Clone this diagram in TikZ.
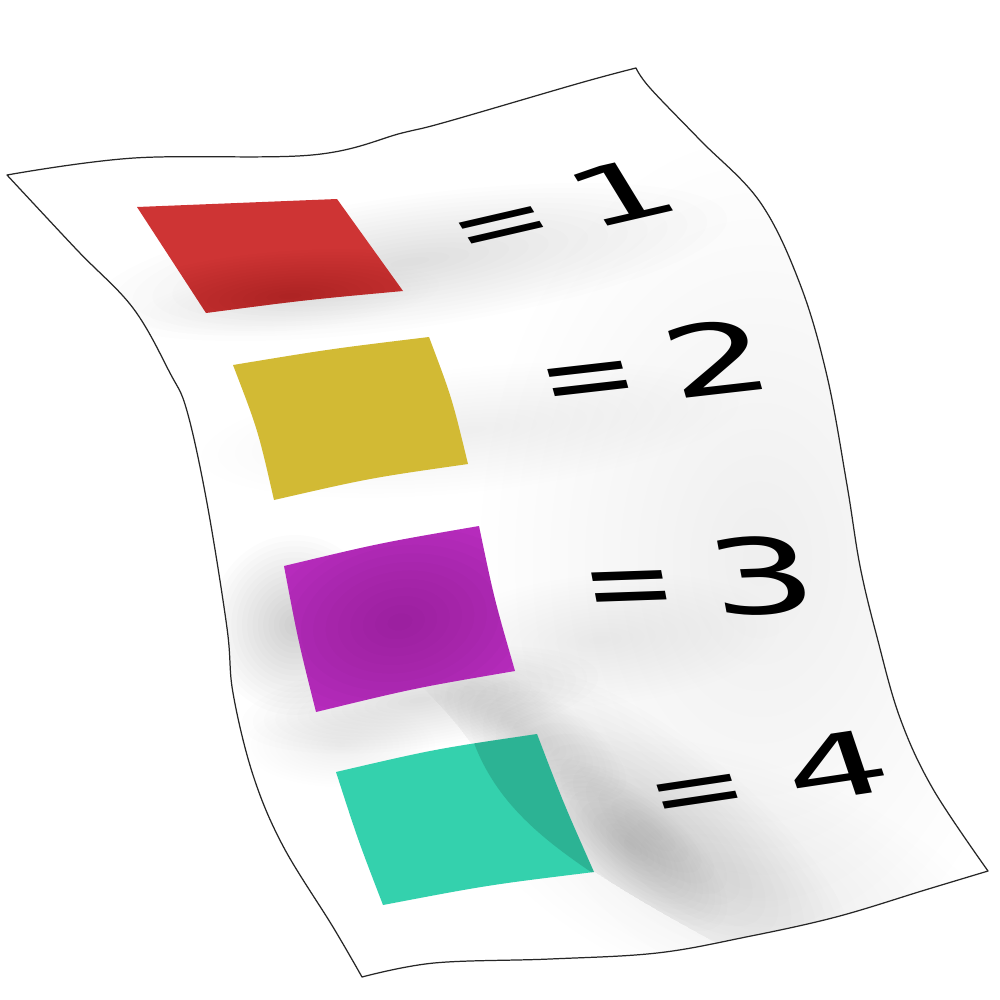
\documentclass[tikz,border=0pt]{standalone}
\usepackage{fontspec}
\setmainfont{DejaVu Sans}
\usepackage{graphicx}
\definecolor{sqred}{RGB}{206,52,52}
\definecolor{sqyellow}{RGB}{210,186,52}
\definecolor{sqmagenta}{RGB}{197,48,203}
\definecolor{sqteal}{RGB}{52,209,173}
\newcommand\softblob[6]{%
  \foreach \k in {1,...,16}{%
    \fill[black, fill opacity=#6, rotate around={#5:(#1,#2)}] (#1,#2) ellipse [x radius={#3*\k/16}, y radius={#4*\k/16}];
  }}
\newcommand\paperpath{(7,175) -- plot[smooth, tension=0.6] coordinates {(7,175) (134,158) (312,155) (402,133) (446,122) (580,83) (636,68)}
  -- plot[smooth, tension=0.6] coordinates {(636,68) (650,88) (700,140) (760,202) (800,284) (827,376) (847,485) (860,566) (877,637) (900,718) (933,789) (988,871)}
  -- plot[smooth, tension=0.6] coordinates {(988,871) (925,890) (836,917) (746,937) (657,953) (550,959) (434,963) (362,977)}
  -- plot[smooth, tension=0.6] coordinates {(362,977) (333,927) (283,846) (253,775) (233,693) (227,628) (207,503) (187,411) (170,373) (133,308) (77,250) (7,175)} -- cycle}
\newcommand\redsq{(137,207) -- (337,199) -- (403,291) .. controls (305,300) .. (206,313) -- cycle}
\newcommand\yellowsq{(233,365) .. controls (330,349) .. (429,337) .. controls (452,398) .. (468,464) .. controls (370,478) .. (274,500) .. controls (258,430) .. (233,365) -- cycle}
\newcommand\magentasq{(284,566) .. controls (380,543) .. (479,526) .. controls (494,598) .. (515,671) .. controls (415,688) .. (316,712) .. controls (298,640) .. (284,566) -- cycle}
\newcommand\tealsq{(336,772) .. controls (435,749) .. (537,734) .. controls (563,802) .. (594,872) .. controls (488,885) .. (383,905) .. controls (358,840) .. (336,772) -- cycle}
\tikzset{lbl/.style={anchor=base west, inner sep=0pt, outer sep=0pt, text=black, font=\fontsize{20}{24}\selectfont}}
\begin{document}
\begin{tikzpicture}[x=0.01cm, y=-0.01cm]
\useasboundingbox (0,0) rectangle (1000,1000);
\fill[white] (0,0) rectangle (1000,1000);
% paper
\fill[white] \paperpath;
\begin{scope}
  \clip \paperpath;
  % general faint grey on the right
  \softblob{760}{560}{280}{420}{0}{0.0035}
  \softblob{740}{880}{280}{120}{-20}{0.004}
  % shadow under the red row
  \softblob{410}{262}{320}{66}{8}{0.0065}
  \softblob{290}{300}{150}{32}{6}{0.005}
  % shadow of the yellow row
  \softblob{470}{430}{270}{62}{6}{0.0025}
  % shadow around the magenta square
  \softblob{295}{625}{85}{90}{0}{0.013}
  \softblob{420}{700}{180}{48}{8}{0.007}
  \softblob{600}{640}{180}{65}{5}{0.003}
  \softblob{340}{745}{95}{42}{0}{0.005}
  % long diagonal shadow
  \begin{scope}
    \clip (380,650) .. controls (440,700) and (470,735) .. (500,790)
      .. controls (540,840) and (600,880) .. (720,945) -- (1000,1000) -- (1000,600) -- cycle;
    \softblob{650}{830}{250}{95}{-38}{0.008}
    \softblob{630}{845}{120}{50}{-40}{0.006}
    \softblob{520}{730}{120}{45}{-30}{0.006}
  \end{scope}
\end{scope}
% squares
\fill[sqred] \redsq;
\begin{scope}
  \clip \redsq;
  \softblob{290}{296}{190}{45}{4}{0.009}
\end{scope}
\fill[sqyellow] \yellowsq;
\begin{scope}
  \clip \yellowsq;
  \softblob{300}{465}{150}{60}{0}{0.0012}
\end{scope}
\fill[sqmagenta] \magentasq;
\begin{scope}
  \clip \magentasq;
  \softblob{400}{622}{200}{135}{10}{0.012}
\end{scope}
\fill[sqteal] \tealsq;
\begin{scope}
  \clip \tealsq;
  \fill[black, fill opacity=0.14] (468,725) .. controls (488,795) and (535,835) .. (600,878) -- (620,700) -- cycle;
\end{scope}
% labels
\begin{scope}[shift={(467,259)}]
  \node[lbl, cm={1.632,0.377,-0.642,1.049,(0,0)}] (l1) at (0,0) {=\hspace{0.22em}\scalebox{1.36}[1]{1}};
\end{scope}
\begin{scope}[shift={(547,414)}]
  \node[lbl, cm={1.669,0.190,-0.383,1.363,(0,0)}] (l2) at (0,0) {=\hspace{0.25em}\scalebox{1.4}[1]{2}};
\end{scope}
\begin{scope}[shift={(588,620)}]
  \node[lbl, cm={1.589,0.055,-0.272,1.475,(0,0)}] (l3) at (0,0) {=\hspace{0.29em}\scalebox{1.52}[1]{3}};
\end{scope}
\begin{scope}[shift={(657,825)}]
  \node[lbl, cm={1.661,0.248,-0.405,1.204,(0,0)}] (l4) at (0,0) {=\hspace{0.34em}\scalebox{1.4}[1]{4}};
\end{scope}
% paper outline
\draw[black!85, line width=0.35pt, line join=round] \paperpath;
\end{tikzpicture}
\end{document}
